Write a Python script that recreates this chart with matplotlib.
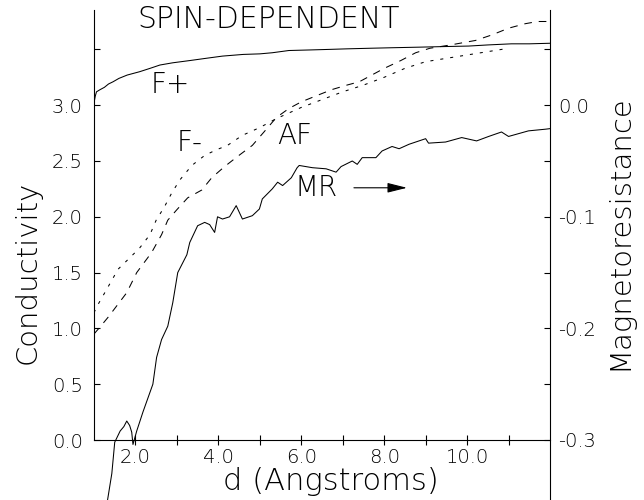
import matplotlib
matplotlib.use("Agg")
import matplotlib.pyplot as plt
from matplotlib.ticker import FixedLocator, FuncFormatter

plt.rcParams['font.family'] = ['DejaVu Sans']
plt.rcParams['font.weight'] = 'light'
plt.rcParams['lines.scale_dashes'] = False

# ---- data ----
fp_x = [1.0, 1.03, 1.06, 1.15, 1.25, 1.35, 1.46, 1.6, 1.8, 2.1, 2.35, 2.59, 2.9, 3.31,
        3.7, 4.1, 4.6, 5.0, 5.3, 5.7, 6.2, 6.67, 7.1, 7.63, 8.2, 8.84, 9.4, 10.04,
        10.5, 11.07, 11.5, 12.0]
fp_y = [3.02, 3.08, 3.12, 3.14, 3.16, 3.19, 3.21, 3.24, 3.27, 3.30, 3.33, 3.36, 3.38, 3.40,
        3.42, 3.44, 3.455, 3.46, 3.47, 3.49, 3.495, 3.50, 3.505, 3.51, 3.515, 3.52, 3.525, 3.53,
        3.54, 3.55, 3.55, 3.555]

fm_x = [1.0, 1.06, 1.26, 1.58, 1.91, 2.1, 2.35, 2.5, 2.7, 2.87, 3.07, 3.36, 3.67, 3.95,
        4.22, 4.58, 5.0, 5.4, 6.0, 6.5, 7.0, 7.5, 8.0, 8.5, 9.0, 9.5, 10.0, 10.5, 11.0]
fm_y = [1.14, 1.19, 1.32, 1.53, 1.65, 1.72, 1.84, 1.97, 2.09, 2.21, 2.33, 2.46, 2.55, 2.60,
        2.64, 2.73, 2.80, 2.88, 2.98, 3.05, 3.12, 3.18, 3.25, 3.33, 3.39, 3.42, 3.45, 3.48, 3.51]

af_x = [1.0, 1.14, 1.34, 1.79, 2.03, 2.39, 2.63, 2.78, 2.99, 3.26, 3.6, 3.84, 4.15, 4.46,
        4.82, 5.1, 5.4, 5.7, 6.0, 6.4, 6.74, 7.1, 7.4, 8.0, 8.4, 8.76, 9.1, 9.6, 10.2,
        10.6, 11.0, 11.4, 11.7, 12.0]
af_y = [0.95, 1.01, 1.10, 1.32, 1.50, 1.68, 1.84, 1.97, 2.06, 2.17, 2.24, 2.35, 2.45, 2.54,
        2.64, 2.76, 2.89, 2.97, 3.03, 3.09, 3.14, 3.18, 3.21, 3.33, 3.40, 3.47, 3.51, 3.54, 3.58,
        3.63, 3.69, 3.73, 3.75, 3.75]

mr_x = [1.30, 1.43, 1.5, 1.63, 1.72, 1.79, 1.86, 1.91, 1.94, 2.03, 2.18, 2.42, 2.51, 2.63,
        2.78, 2.9, 3.02, 3.24, 3.31, 3.5, 3.67, 3.79, 3.91, 3.98, 4.1, 4.27, 4.43, 4.58,
        4.82, 4.99, 5.06, 5.3, 5.43, 5.55, 5.76, 5.9, 5.95, 6.27, 6.6, 6.84, 6.96, 7.23,
        7.35, 7.47, 7.8, 7.95, 8.19, 8.36, 8.6, 9.0, 9.07, 9.48, 9.87, 10.23, 10.52, 10.83,
        11.0, 11.48, 11.89, 12.0]
mr_y = [-0.36, -0.33, -0.302, -0.292, -0.288, -0.283, -0.287, -0.293, -0.304, -0.292, -0.275,
        -0.25, -0.226, -0.21, -0.198, -0.177, -0.15, -0.134, -0.123, -0.108, -0.105, -0.107,
        -0.114, -0.100, -0.102, -0.100, -0.090, -0.102, -0.099, -0.093, -0.084, -0.075, -0.069,
        -0.072, -0.065, -0.056, -0.054, -0.056, -0.057, -0.060, -0.055, -0.050, -0.053, -0.047,
        -0.047, -0.041, -0.037, -0.039, -0.035, -0.030, -0.034, -0.033, -0.029, -0.032, -0.028,
        -0.024, -0.028, -0.023, -0.0215, -0.021]

x_major = [2.0, 4.0, 6.0, 8.0, 10.0]
x_minor = [3.0, 5.0, 7.0, 9.0, 11.0]
left_ticks = [0.0, 0.5, 1.0, 1.5, 2.0, 2.5, 3.0, 3.5]
right_major = [-0.3, -0.2, -0.1, 0.0]
right_minor = [-0.25, -0.15, -0.05, 0.05]

# ---- figure ----
W, H = 644, 500
fig = plt.figure(figsize=(W / 100, H / 100), dpi=100)
ax_left, ax_right, ax_top = 94, 550, 9.5
ax = fig.add_axes([ax_left / W, 0, (ax_right - ax_left) / W, (H - ax_top) / H])

ylo, yhi = (440 - 500) / 111.6, (440 - ax_top) / 111.6
ax.set_xlim(1.0, 12.0)
ax.set_ylim(ylo, yhi)

lw = 0.75
ax.plot(fp_x, fp_y, color='k', lw=lw)
ax.plot(fm_x, fm_y, color='k', lw=lw, dashes=(2.2, 5.0))
ax.plot(af_x, af_y, color='k', lw=lw, dashes=(5.5, 5.0))

ax2 = ax.twinx()
ax2.set_ylim((ylo - 3) * 0.1, (yhi - 3) * 0.1)
ax2.plot(mr_x, mr_y, color='k', lw=lw)

# spines
for s in ['top', 'right']:
    ax.spines[s].set_visible(False)
for s in ['top', 'left', 'bottom']:
    ax2.spines[s].set_visible(False)
ax.spines['bottom'].set_position(('data', 0))
ax.spines['left'].set_bounds(0, yhi)
for sp in [ax.spines['left'], ax.spines['bottom'], ax2.spines['right']]:
    sp.set_linewidth(0.8)

tick_font = 14
ax.xaxis.set_major_locator(FixedLocator(x_major))
ax.xaxis.set_minor_locator(FixedLocator(x_minor))
ax.xaxis.set_major_formatter(FuncFormatter(lambda v, p: f"{v:.1f}"))
ax.tick_params(axis='x', which='both', direction='inout', length=7, width=0.8,
               labelsize=tick_font, pad=2)

ax.yaxis.set_major_locator(FixedLocator(left_ticks))
ax.yaxis.set_major_formatter(FuncFormatter(lambda v, p: "" if v > 3.2 else f"{v:.1f}"))
ax.tick_params(axis='y', which='both', direction='in', length=4.5, width=0.8,
               labelsize=tick_font, pad=8)

ax2.yaxis.set_major_locator(FixedLocator(right_major))
ax2.yaxis.set_minor_locator(FixedLocator(right_minor))
ax2.yaxis.set_major_formatter(FuncFormatter(lambda v, p: f"{v:.1f}".replace("-0.0", "0.0")))
ax2.tick_params(axis='y', which='both', direction='in', length=4.0, width=0.8,
                labelsize=tick_font, pad=6)

for lab in ax.get_xticklabels() + ax.get_yticklabels() + ax2.get_yticklabels():
    lab.set_fontweight('light')

lab_font = 20
ax.text(2.85, 3.18, "F+", fontsize=lab_font, ha='center', va='center', fontweight='light')
ax.text(3.31, 2.66, "F-", fontsize=lab_font, ha='center', va='center', fontweight='light')
ax.text(5.83, 2.72, "AF", fontsize=lab_font, ha='center', va='center', fontweight='light')
ax.text(6.36, 2.26, "MR", fontsize=lab_font, ha='center', va='center', fontweight='light')
ax.annotate('', xy=(8.55, 2.26), xytext=(7.27, 2.26),
            arrowprops=dict(arrowstyle='-|>,head_length=0.6,head_width=0.15',
                            lw=0.8, color='k', mutation_scale=20, shrinkA=0, shrinkB=0))

fig.text(269 / W, 1 - 20 / H, "SPIN-DEPENDENT", fontsize=21.5, ha='center', va='center',
         fontweight='light')
fig.text(331 / W, 1 - 482 / H, "d (Angstroms)", fontsize=22, ha='center', va='center',
         fontweight='light')
fig.text(28 / W, 1 - 272 / H, "Conductivity", fontsize=21, ha='center', va='center',
         rotation=90, fontweight='light')
fig.text(619 / W, 1 - 232 / H, "Magnetoresistance", fontsize=21, ha='center', va='center',
         rotation=90, fontweight='light')

fig.savefig("out.png", dpi=100)
